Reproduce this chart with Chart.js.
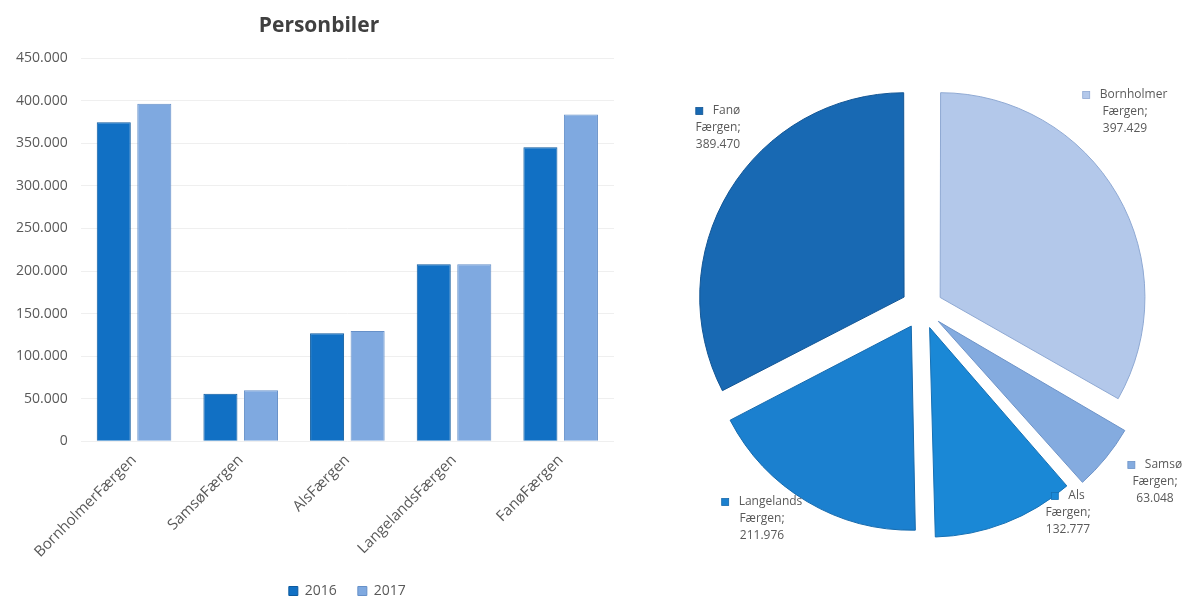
<!DOCTYPE html>
<html>
<head>
<meta charset="utf-8">
<script src="https://cdn.jsdelivr.net/npm/chart.js@4.4.1/dist/chart.umd.min.js"></script>
<style>
  html, body { margin:0; padding:0; background:#fff; }
  #wrap { position:relative; width:1183px; height:596px; overflow:hidden; }
  #barBox { position:absolute; left:0; top:0; width:630px; height:596px; }
  #pieBox { position:absolute; left:630px; top:0; width:553px; height:596px; }
</style>
</head>
<body>
<div id="wrap">
  <div id="barBox"><canvas id="bar"></canvas></div>
  <div id="pieBox"><canvas id="pie"></canvas></div>
</div>
<script>
// Personbiler pr. færgerute
const categories = ['BornholmerFærgen', 'SamsøFærgen', 'AlsFærgen', 'LangelandsFærgen', 'FanøFærgen'];
const values2016 = [374700, 56000, 127000, 208000, 345500];
const values2017 = [396500, 60000, 129500, 208000, 384000];

const pieNames = ['Bornholmer', 'Samsø', 'Als', 'Langelands', 'Fanø'];
const pieValues = [397429, 63048, 132777, 211976, 389470];
const pieColors = ['#b3c8ea', '#84abdf', '#1a88d6', '#1b80cf', '#1869b3'];
const pieBorders = ['#8fa9d3', '#6d93c8', '#1670b4', '#166aad', '#135695'];
// label block centre, px from the pie centre
const pieLabelOffset = [[203, -196], [233, 174], [146, 205], [-160, 211], [-204, -180]];

const gray = '#595959';
const fmt = v => String(Math.round(v)).replace(/\B(?=(\d{3})+(?!\d))/g, '.');

// centre the legend under the plot area instead of the whole canvas
const legendUnderPlot = {
  id: 'legendUnderPlot',
  afterLayout(chart) {
    const lg = chart.legend, ca = chart.chartArea;
    if (!lg) return;
    const shift = (ca.left + ca.right) / 2 - (lg.left + lg.right) / 2;
    lg.left += shift;
    lg.right += shift;
  }
};

new Chart(document.getElementById('bar'), {
  type: 'bar',
  data: {
    labels: categories,
    datasets: [
      { label: '2016', data: values2016, backgroundColor: '#1170c4', borderColor: '#0d5a9e', borderWidth: 1 },
      { label: '2017', data: values2017, backgroundColor: '#7fa9e0', borderColor: '#6690c8', borderWidth: 1 }
    ]
  },
  options: {
    responsive: true, maintainAspectRatio: false, animation: false,
    layout: { padding: { left: 3, right: 16, top: 0, bottom: -12 } },
    datasets: { bar: { barPercentage: 0.84, categoryPercentage: 0.76 } },
    scales: {
      x: {
        grid: { display: false },
        border: { display: false },
        ticks: { color: gray, font: { family: 'Open Sans', size: 15 }, maxRotation: 45, minRotation: 45, padding: 2 }
      },
      y: {
        min: 0, max: 450000,
        grid: { color: '#efefef', drawTicks: false },
        border: { display: false },
        ticks: { stepSize: 50000, color: gray, padding: 13, font: { family: 'Open Sans', size: 14 }, callback: v => fmt(v) }
      }
    },
    plugins: {
      // leading em space nudges the centred title right, as in the original
      title: { display: true, text: '\u2003Personbiler', color: '#404040', font: { family: 'Open Sans', size: 21, weight: 'bold' }, padding: { top: 13, bottom: 20 } },
      legend: {
        position: 'bottom',
        labels: { color: gray, boxWidth: 9, boxHeight: 9, padding: 21, font: { family: 'Open Sans', size: 14 } }
      },
      tooltip: { enabled: false }
    }
  },
  plugins: [legendUnderPlot]
});

const pieLabels = {
  id: 'pieLabels',
  afterDraw(chart) {
    const meta = chart.getDatasetMeta(0);
    const ctx = chart.ctx;
    const cx = meta.data[0].x, cy = meta.data[0].y;
    ctx.save();
    ctx.font = '12px "Open Sans"';
    ctx.textBaseline = 'middle';
    const lh = 17;
    pieValues.forEach((v, i) => {
      const bx = cx + pieLabelOffset[i][0];
      const by = cy + pieLabelOffset[i][1];
      const lines = [pieNames[i], 'Færgen;', fmt(v)];
      // first line: legend key + name
      const tw = ctx.measureText(lines[0]).width;
      const x0 = bx - (17 + tw) / 2;
      const y0 = by - lh;
      ctx.fillStyle = pieColors[i];
      ctx.fillRect(x0, y0 - 3.5, 7, 7);
      ctx.strokeStyle = pieBorders[i];
      ctx.lineWidth = 0.8;
      ctx.strokeRect(x0, y0 - 3.5, 7, 7);
      ctx.fillStyle = gray;
      ctx.textAlign = 'left';
      ctx.fillText(lines[0], x0 + 17, y0);
      ctx.textAlign = 'center';
      ctx.fillText(lines[1], bx, by);
      ctx.fillText(lines[2], bx, by + lh);
    });
    ctx.restore();
  }
};

new Chart(document.getElementById('pie'), {
  type: 'pie',
  data: {
    labels: pieNames,
    datasets: [{
      data: pieValues,
      backgroundColor: pieColors,
      borderColor: pieBorders,
      borderWidth: 1,
      offset: 84,   // arc draws offset/4 px
      radius: 202
    }]
  },
  options: {
    responsive: true, maintainAspectRatio: false, animation: false,
    layout: { padding: { left: 31, right: 0, top: 20, bottom: 0 } },
    plugins: { legend: { display: false }, tooltip: { enabled: false } }
  },
  plugins: [pieLabels]
});
</script>
</body>
</html>
